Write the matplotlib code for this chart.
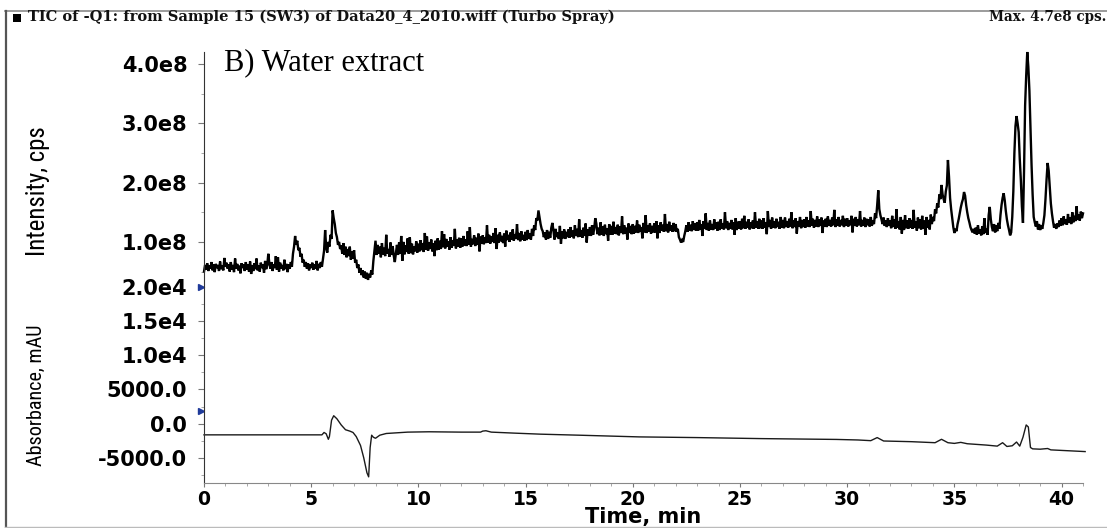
import numpy as np
import matplotlib
matplotlib.use("Agg")
import matplotlib.pyplot as plt
from matplotlib.ticker import FixedLocator, FixedFormatter, MultipleLocator
from matplotlib.lines import Line2D
from matplotlib.patches import Rectangle
from matplotlib.font_manager import FontProperties

# ---------------------------------------------------------------- data
# Total ion current, one scan every 0.05 min starting at 0 min, in 1e8 cps
tic_start_min = 0.0
tic_step_min = 0.05
tic_e8 = [
    # 0 min
    0.50, 0.61, 0.53, 0.64, 0.51, 0.60, 0.55, 0.66, 0.52, 0.62,
    0.49, 0.63, 0.56, 0.61, 0.51, 0.67, 0.54, 0.60, 0.52, 0.73,
    # 1
    0.58, 0.65, 0.55, 0.62, 0.50, 0.66, 0.53, 0.61, 0.49, 0.72,
    0.55, 0.63, 0.52, 0.60, 0.47, 0.64, 0.56, 0.62, 0.51, 0.66,
    # 2
    0.53, 0.62, 0.50, 0.67, 0.46, 0.61, 0.51, 0.64, 0.54, 0.72,
    0.52, 0.60, 0.50, 0.65, 0.56, 0.62, 0.48, 0.68, 0.54, 0.61,
    # 3
    0.80, 0.63, 0.55, 0.66, 0.51, 0.62, 0.56, 0.76, 0.53, 0.74,
    0.50, 0.65, 0.55, 0.61, 0.52, 0.70, 0.54, 0.63, 0.49, 0.62,
    # 4
    0.55, 0.66, 0.58, 0.80, 0.92, 1.10, 0.95, 1.02, 0.86, 0.90,
    0.75, 0.80, 0.65, 0.70, 0.58, 0.66, 0.55, 0.64, 0.52, 0.62,
    # 5
    0.56, 0.65, 0.53, 0.62, 0.55, 0.68, 0.52, 0.63, 0.56, 0.66,
    0.58, 0.72, 0.85, 1.20, 0.90, 0.82, 1.00, 0.92, 1.12, 1.05,
    # 6
    1.53, 1.40, 1.30, 1.15, 1.08, 0.95, 1.00, 0.88, 0.94, 0.80,
    0.98, 0.78, 0.92, 0.74, 0.88, 0.76, 0.92, 0.70, 0.84, 0.72,
    # 7
    0.86, 0.65, 0.70, 0.56, 0.62, 0.48, 0.56, 0.44, 0.52, 0.40,
    0.50, 0.38, 0.48, 0.36, 0.46, 0.40, 0.52, 0.45, 0.68, 0.85,
    # 8
    1.02, 0.78, 0.95, 0.80, 0.92, 0.74, 0.98, 0.79, 0.90, 0.76,
    1.12, 0.80, 0.88, 0.75, 0.99, 0.78, 0.93, 0.77, 0.66, 0.81,
    # 9
    0.95, 0.78, 0.99, 0.80, 1.10, 0.68, 1.00, 0.79, 0.94, 0.83,
    1.06, 0.80, 1.08, 0.81, 0.97, 0.79, 0.92, 0.84, 1.01, 0.82,
    # 10
    0.97, 0.84, 1.03, 0.86, 0.98, 0.83, 1.15, 0.87, 1.09, 0.85,
    0.99, 0.88, 1.04, 0.84, 0.98, 0.76, 1.02, 0.86, 1.06, 0.87,
    # 11
    1.02, 0.88, 1.18, 0.91, 1.13, 0.89, 1.05, 0.92, 1.01, 0.87,
    1.08, 0.90, 1.03, 0.93, 1.22, 0.89, 1.04, 0.92, 1.07, 0.90,
    # 12
    1.06, 0.92, 1.10, 0.94, 1.04, 0.93, 1.18, 0.95, 1.25, 0.92,
    1.05, 0.96, 1.11, 0.93, 1.07, 0.95, 1.14, 0.84, 1.09, 0.97,
    # 13
    1.11, 0.96, 1.08, 0.98, 1.28, 0.99, 1.12, 0.97, 1.09, 1.00,
    1.15, 0.98, 1.23, 0.88, 1.12, 0.99, 1.16, 1.01, 1.10, 0.98,
    # 14
    1.14, 0.92, 1.19, 1.03, 1.12, 1.00, 1.16, 1.04, 1.21, 1.02,
    1.13, 1.05, 1.30, 1.03, 1.15, 1.01, 1.18, 1.04, 1.12, 1.02,
    # 15
    1.17, 1.03, 1.20, 1.05, 1.14, 1.04, 1.22, 1.10, 1.28, 1.20,
    1.40, 1.36, 1.53, 1.42, 1.30, 1.22, 1.18, 1.08, 1.16, 1.04,
    # 16
    1.20, 1.05, 1.17, 1.07, 1.24, 1.32, 1.19, 1.04, 1.22, 1.08,
    1.16, 1.05, 1.27, 0.97, 1.18, 1.06, 1.21, 1.05, 1.17, 1.08,
    # 17
    1.21, 1.07, 1.25, 1.09, 1.19, 1.06, 1.28, 1.10, 1.22, 1.08,
    1.38, 1.09, 1.20, 1.07, 1.24, 1.10, 1.31, 0.99, 1.21, 1.11,
    # 18
    1.25, 1.10, 1.28, 1.12, 1.22, 1.40, 1.31, 1.13, 1.24, 1.11,
    1.33, 1.12, 1.26, 1.10, 1.29, 1.13, 1.23, 1.02, 1.30, 1.12,
    # 19
    1.27, 1.12, 1.34, 1.14, 1.25, 1.13, 1.29, 1.11, 1.26, 1.15,
    1.43, 1.13, 1.28, 1.14, 1.24, 1.04, 1.31, 1.15, 1.27, 1.13,
    # 20
    1.30, 1.14, 1.27, 1.16, 1.36, 1.15, 1.29, 1.17, 1.25, 1.06,
    1.32, 1.16, 1.45, 1.15, 1.28, 1.17, 1.31, 1.14, 1.27, 1.16,
    # 21
    1.31, 1.16, 1.35, 1.06, 1.28, 1.15, 1.33, 1.19, 1.29, 1.17,
    1.47, 1.18, 1.30, 1.16, 1.34, 1.19, 1.28, 1.17, 1.32, 1.18,
    # 22
    1.30, 1.17, 1.22, 1.08, 1.04, 0.99, 1.03, 1.00, 1.10, 1.18,
    1.28, 1.17, 1.33, 1.19, 1.29, 1.18, 1.35, 1.20, 1.31, 1.19,
    # 23
    1.33, 1.19, 1.37, 1.21, 1.30, 1.10, 1.35, 1.22, 1.48, 1.20,
    1.32, 1.19, 1.36, 1.21, 1.30, 1.20, 1.38, 1.22, 1.33, 1.19,
    # 24
    1.34, 1.20, 1.38, 1.22, 1.31, 1.21, 1.50, 1.23, 1.35, 1.20,
    1.32, 1.22, 1.37, 1.21, 1.33, 1.12, 1.40, 1.20, 1.34, 1.22,
    # 25
    1.35, 1.21, 1.39, 1.23, 1.44, 1.22, 1.34, 1.24, 1.38, 1.21,
    1.33, 1.23, 1.36, 1.22, 1.50, 1.24, 1.35, 1.22, 1.39, 1.23,
    # 26
    1.36, 1.22, 1.40, 1.24, 1.33, 1.13, 1.52, 1.25, 1.37, 1.22,
    1.41, 1.24, 1.35, 1.23, 1.39, 1.25, 1.34, 1.22, 1.42, 1.24,
    # 27
    1.37, 1.23, 1.41, 1.25, 1.35, 1.24, 1.39, 1.26, 1.50, 1.23,
    1.36, 1.25, 1.40, 1.14, 1.35, 1.26, 1.42, 1.23, 1.37, 1.25,
    # 28
    1.38, 1.24, 1.42, 1.26, 1.36, 1.25, 1.52, 1.27, 1.39, 1.24,
    1.37, 1.26, 1.43, 1.25, 1.38, 1.27, 1.41, 1.15, 1.36, 1.26,
    # 29
    1.39, 1.25, 1.43, 1.27, 1.37, 1.26, 1.41, 1.28, 1.54, 1.25,
    1.38, 1.27, 1.42, 1.26, 1.37, 1.28, 1.44, 1.25, 1.39, 1.27,
    # 30
    1.40, 1.26, 1.36, 1.28, 1.44, 1.16, 1.39, 1.27, 1.42, 1.26,
    1.38, 1.28, 1.52, 1.26, 1.37, 1.27, 1.41, 1.25, 1.39, 1.28,
    # 31
    1.38, 1.26, 1.42, 1.27, 1.36, 1.30, 1.48, 1.40, 1.62, 1.87,
    1.55, 1.45, 1.38, 1.30, 1.41, 1.27, 1.36, 1.25, 1.40, 1.27,
    # 32
    1.36, 1.23, 1.44, 1.25, 1.38, 1.22, 1.55, 1.24, 1.35, 1.21,
    1.42, 1.14, 1.37, 1.20, 1.45, 1.23, 1.36, 1.22, 1.40, 1.24,
    # 33
    1.37, 1.22, 1.54, 1.24, 1.35, 1.19, 1.41, 1.23, 1.38, 1.21,
    1.44, 1.22, 1.36, 1.12, 1.42, 1.24, 1.37, 1.21, 1.46, 1.30,
    # 34
    1.42, 1.35, 1.55, 1.48, 1.65, 1.58, 1.80, 1.72, 1.96, 1.80,
    1.72, 1.66, 1.85, 1.95, 2.38, 2.10, 1.74, 1.55, 1.40, 1.25,
    # 35
    1.15, 1.22, 1.18, 1.30, 1.38, 1.48, 1.58, 1.66, 1.72, 1.84,
    1.78, 1.62, 1.50, 1.40, 1.33, 1.25, 1.20, 1.16, 1.22, 1.14,
    # 36
    1.24, 1.12, 1.28, 1.14, 1.21, 1.11, 1.26, 1.13, 1.40, 1.15,
    1.22, 1.12, 1.45, 1.59, 1.38, 1.25, 1.18, 1.30, 1.16, 1.28,
    # 37
    1.18, 1.32, 1.22, 1.45, 1.62, 1.74, 1.82, 1.70, 1.52, 1.38,
    1.28, 1.20, 1.11, 1.16, 1.42, 1.85, 2.50, 2.95, 3.12, 3.00,
    # 38
    2.85, 2.40, 2.05, 1.60, 1.32, 2.20, 3.30, 3.80, 4.20, 3.95,
    3.55, 2.90, 2.30, 1.80, 1.42, 1.33, 1.26, 1.35, 1.21, 1.30,
    # 39
    1.20, 1.28, 1.22, 1.32, 1.45, 1.72, 2.05, 2.33, 2.20, 1.92,
    1.65, 1.48, 1.35, 1.24, 1.30, 1.22, 1.31, 1.25, 1.36, 1.27,
    # 40
    1.40, 1.28, 1.43, 1.30, 1.38, 1.29, 1.47, 1.32, 1.41, 1.30,
    1.50, 1.33, 1.44, 1.35, 1.60, 1.37, 1.46, 1.36, 1.51, 1.40,
    # 41
    1.48,
]

# UV absorbance trace (min, mAU)
abs_time = [0.0, 5.5, 5.6, 5.7, 5.8, 5.85, 5.95, 6.05, 6.2, 6.4, 6.6, 6.8,
            6.95, 7.1, 7.3, 7.45, 7.6, 7.68, 7.75, 7.82, 7.9, 8.0, 8.2, 8.5,
            9.0, 9.5, 10.5, 12.0, 12.9, 13.0, 13.15, 13.4, 14.5, 15.7, 17.5,
            20.3, 23.0, 26.0, 29.5, 30.5, 31.1, 31.4, 31.7, 33.0, 34.1, 34.4,
            34.7, 35.0, 35.3, 35.6, 36.5, 37.0, 37.25, 37.45, 37.7, 37.9,
            38.05, 38.2, 38.35, 38.45, 38.55, 38.65, 39.0, 39.35, 39.5, 41.1]
abs_mau = [-1650, -1650, -1300, -1500, -2300, -1900, 500, 1150, 700, -200,
           -900, -1100, -1300, -1900, -3200, -5000, -7200, -7800, -3500,
           -1700, -2000, -2150, -1700, -1450, -1350, -1250, -1200, -1250,
           -1250, -1100, -1050, -1250, -1400, -1550, -1700, -1950, -2050,
           -2200, -2320, -2400, -2500, -2050, -2550, -2650, -2800, -2300,
           -2800, -2900, -2750, -2950, -3150, -3300, -2800, -3350, -3250,
           -2700, -3300, -2000, -200, -500, -3500, -3700, -3750, -3650,
           -3850, -4100]

time_ticks = [0, 5, 10, 15, 20, 25, 30, 35, 40]
time_tick_labels = ["0", "5", "10", "15", "20", "25", "30", "35", "40"]
tic_ticks = [1e8, 2e8, 3e8, 4e8]
tic_tick_labels = ["1.0e8", "2.0e8", "3.0e8", "4.0e8"]
abs_ticks = [-5000, 0, 5000, 10000, 15000, 20000]
abs_tick_labels = ["-5000.0", "0.0", "5000.0", "1.0e4", "1.5e4", "2.0e4"]

# trace offset markers on the left axis
tic_marker_level = 0.24e8
abs_marker_level = 1900

# ---------------------------------------------------------------- layout
W, H = 1107, 528
DPI = 100
fig = plt.figure(figsize=(W / DPI, H / DPI), dpi=DPI)
fig.patch.set_facecolor("white")


def fx(x):
    return x / W


def fy(y):
    return 1 - y / H


left, right = 204, 1083
top_y0, split_y, bottom_y = 52, 287, 483

ax_abs = fig.add_axes([fx(left), fy(bottom_y), fx(right - left),
                       (bottom_y - split_y) / H])
ax_tic = fig.add_axes([fx(left), fy(split_y), fx(right - left),
                       (split_y - top_y0) / H], sharex=ax_abs)

ytick_fp = FontProperties(family="DejaVu Sans", weight="bold", size=15)
xtick_fp = FontProperties(family="DejaVu Sans", weight="bold", size=13.5)

# ---------------------------------------------------------------- TIC
tic_time = tic_start_min + tic_step_min * np.arange(len(tic_e8))
ax_tic.plot(tic_time, np.asarray(tic_e8) * 1e8, color="black", lw=1.7,
            solid_joinstyle="miter", clip_on=False)
ax_tic.set_ylim(0.24e8, 4.2e8)
for s in ("top", "right", "bottom"):
    ax_tic.spines[s].set_visible(False)
ax_tic.spines["left"].set_color("#333333")
ax_tic.yaxis.set_major_locator(FixedLocator(tic_ticks))
ax_tic.yaxis.set_major_formatter(FixedFormatter(tic_tick_labels))
ax_tic.yaxis.set_minor_locator(MultipleLocator(0.5e8))
ax_tic.tick_params(axis="y", which="major", direction="out", length=4,
                   width=0.8, color="#777777", pad=8)
ax_tic.tick_params(axis="y", which="minor", direction="out", length=2.5,
                   width=0.6, color="#999999")
ax_tic.tick_params(axis="x", which="both", bottom=False, labelbottom=False)
for lab in ax_tic.get_yticklabels():
    lab.set_fontproperties(ytick_fp)
ax_tic.plot([-0.12], [tic_marker_level], marker=">", ms=4, color="#1f3a9a",
            clip_on=False, ls="none")

# ---------------------------------------------------------------- absorbance
ax_abs.plot(abs_time, abs_mau, color="#1a1a1a", lw=1.0, clip_on=False)
ax_abs.set_xlim(0, 41.0)
ax_abs.set_ylim(-8700, 20000)
for s in ("top", "right"):
    ax_abs.spines[s].set_visible(False)
ax_abs.spines["left"].set_color("#333333")
ax_abs.spines["bottom"].set_color("#888888")
ax_abs.yaxis.set_major_locator(FixedLocator(abs_ticks))
ax_abs.yaxis.set_major_formatter(FixedFormatter(abs_tick_labels))
ax_abs.yaxis.set_minor_locator(MultipleLocator(2500))
ax_abs.xaxis.set_major_locator(FixedLocator(time_ticks))
ax_abs.xaxis.set_major_formatter(FixedFormatter(time_tick_labels))
ax_abs.xaxis.set_minor_locator(MultipleLocator(1))
ax_abs.tick_params(axis="y", which="major", direction="out", length=4,
                   width=0.8, color="#777777", pad=8)
ax_abs.tick_params(axis="y", which="minor", direction="out", length=2.5,
                   width=0.6, color="#999999")
ax_abs.tick_params(axis="x", which="major", direction="out", length=3,
                   width=0.8, color="#777777", pad=2)
ax_abs.tick_params(axis="x", which="minor", direction="out", length=2,
                   width=0.6, color="#999999")
for lab in ax_abs.get_yticklabels():
    lab.set_fontproperties(ytick_fp)
for lab in ax_abs.get_xticklabels():
    lab.set_fontproperties(xtick_fp)
ax_abs.set_xlabel("Time, min", fontfamily="DejaVu Sans", fontweight="bold",
                  fontsize=15, va="baseline")
ax_abs.xaxis.set_label_coords(fx((left + right) / 2), fy(523.5),
                              transform=fig.transFigure)
ax_abs.plot([-0.12], [abs_marker_level], marker=">", ms=4, color="#1f3a9a",
            clip_on=False, ls="none")

# ---------------------------------------------------------------- texts
narrow = ["Liberation Sans Narrow", "Roboto Condensed", "DejaVu Sans"]
ylab_tic = fig.text(fx(38), fy(191), "Intensity, cps", rotation=90,
                    ha="center", va="center", family=narrow,
                    fontstretch="condensed", fontsize=18)
ylab_abs = fig.text(fx(36), fy(395), "Absorbance, mAU", rotation=90,
                    ha="center", va="center", family=narrow,
                    fontstretch="condensed", fontsize=16)

fig.text(fx(224), fy(70), "B) Water extract", family="Liberation Serif",
         fontsize=22, ha="left", va="baseline")

header = fig.text(fx(28), fy(21), "TIC of -Q1: from Sample 15 (SW3) of "
                  "Data20_4_2010.wiff (Turbo Spray)", family="DejaVu Serif",
                  weight="bold", fontsize=9, ha="left", va="baseline",
                  color="#111111")
maxlab = fig.text(fx(1106), fy(21), "Max. 4.7e8 cps.", family="DejaVu Serif",
                  weight="bold", fontsize=9, ha="right", va="baseline",
                  color="#111111")

# size the texts so that they span their slots on the page
renderer = fig.canvas.get_renderer()


def fit(text, span_px, vertical=False):
    bb = text.get_window_extent(renderer=renderer)
    cur = bb.height if vertical else bb.width
    text.set_fontsize(text.get_fontsize() * span_px / cur)


fit(ylab_tic, 130, vertical=True)
fit(ylab_abs, 142, vertical=True)
fit(header, 585)
fit(maxlab, 118)
header.set_fontsize(min(header.get_fontsize(), 11))
maxlab.set_fontsize(min(maxlab.get_fontsize(), 11))

fig.add_artist(Rectangle((fx(13), fy(22)), fx(8), 8 / H,
                         transform=fig.transFigure, color="black", lw=0))

# window frame
fig.add_artist(Line2D([fx(5), fx(1107)], [fy(10.5), fy(10.5)],
                      transform=fig.transFigure, color="#8a8a8a", lw=1.2))
fig.add_artist(Line2D([fx(5.5), fx(5.5)], [fy(10.5), fy(527)],
                      transform=fig.transFigure, color="#555555", lw=1.6))
fig.add_artist(Line2D([fx(5), fx(1107)], [fy(527), fy(527)],
                      transform=fig.transFigure, color="#bbbbbb", lw=1.0))

fig.savefig("out.png", dpi=DPI, facecolor="white")
